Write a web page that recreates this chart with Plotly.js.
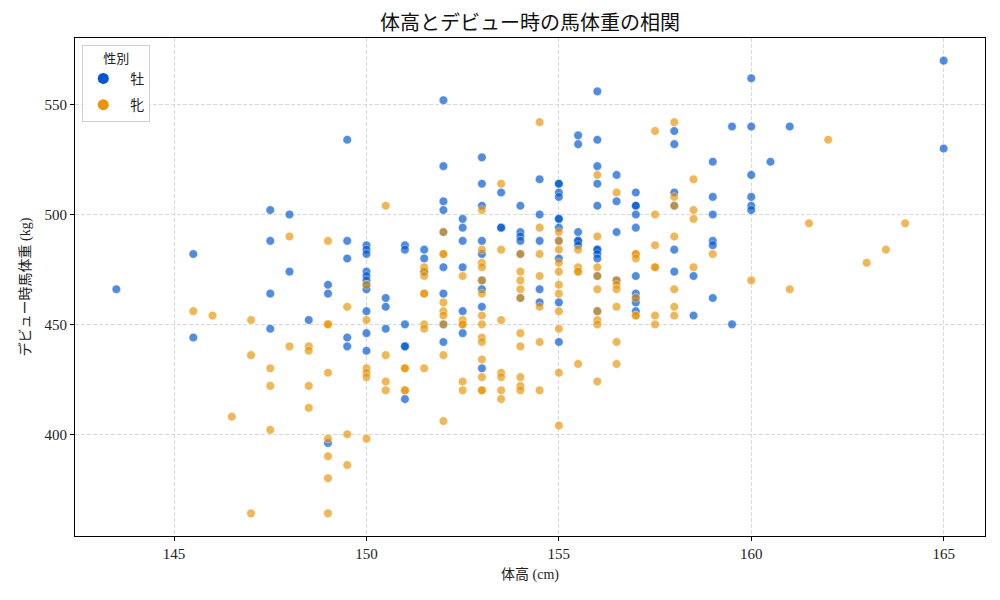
<!DOCTYPE html>
<html>
<head>
<meta charset="utf-8">
<script src="https://cdn.plot.ly/plotly-3.0.1.min.js"></script>
<style>html,body{margin:0;padding:0;background:#fff;}#chart{width:1000px;height:600px;}</style>
</head>
<body>
<div id="chart"></div>
<script>
// 牡 (male): heights (cm) and weights (kg) at each height
const maleHeights = [143.5, 145.5, 147.5, 148, 148.5, 149, 149.5, 150, 150.5, 151, 151.5, 152, 152.5, 153, 153.5, 154, 154.5, 155, 155.5, 156, 156.5, 157, 158, 158.5, 159, 159.5, 160, 160.5, 161, 165];
const maleWeights = [
  [466],
  [482, 444],
  [502, 488, 464, 448],
  [500, 474],
  [452],
  [468, 464, 396],
  [534, 488, 480, 444, 440],
  [486, 484, 482, 474, 472, 470, 468, 466, 456, 446, 438],
  [462, 458, 448],
  [486, 484, 450, 440, 440, 416],
  [484, 480, 474],
  [552, 522, 506, 502, 492, 476, 464, 450, 442],
  [498, 494, 488, 476, 456, 446],
  [526, 514, 504, 488, 482, 470, 466, 458, 430],
  [510, 494, 494],
  [504, 492, 490, 488, 482, 462],
  [516, 500, 488, 466, 460],
  [514, 514, 510, 508, 498, 498, 494, 488, 480, 460, 442],
  [536, 532, 492, 488, 488, 486],
  [556, 534, 522, 514, 504, 484, 484, 482, 480, 472, 456],
  [518, 506, 492, 470],
  [510, 504, 504, 500, 494, 472, 464, 462, 460, 456],
  [538, 532, 510, 504, 484, 474],
  [472, 454],
  [524, 508, 500, 488, 486, 462],
  [540, 450],
  [562, 540, 518, 508, 504, 502],
  [524],
  [540],
  [570, 530]
];
// 牝 (female)
const femaleHeights = [145.5, 146, 146.5, 147, 147.5, 148, 148.5, 149, 149.5, 150, 150.5, 151, 151.5, 152, 152.5, 153, 153.5, 154, 154.5, 155, 155.5, 156, 156.5, 157, 157.5, 158, 158.5, 159, 160, 161, 161.5, 162, 163, 163.5, 164];
const femaleWeights = [
  [456],
  [454],
  [408],
  [452, 436, 364],
  [430, 422, 402],
  [490, 440],
  [440, 438, 422, 412],
  [488, 450, 450, 428, 398, 390, 380, 364],
  [458, 400, 386],
  [468, 452, 430, 428, 426, 398],
  [504, 436, 424, 420],
  [430, 430, 420, 420],
  [476, 474, 472, 464, 464, 450, 448, 430],
  [492, 482, 482, 460, 456, 454, 450, 436, 406],
  [472, 452, 450, 450, 424, 420],
  [502, 484, 478, 476, 470, 464, 454, 450, 444, 442, 434, 426, 420, 420],
  [514, 484, 452, 428, 426, 420, 416],
  [482, 474, 470, 466, 462, 446, 440, 426, 422, 420],
  [542, 494, 482, 472, 458, 442, 420],
  [492, 488, 484, 478, 474, 468, 464, 456, 448, 428, 404],
  [484, 476, 474, 474, 432],
  [518, 490, 476, 472, 466, 456, 452, 450, 424],
  [510, 470, 468, 466, 458, 442, 432],
  [482, 482, 480, 462, 454, 454],
  [538, 500, 486, 476, 476, 454, 450],
  [542, 508, 504, 490, 466, 458, 454],
  [516, 502, 498, 476],
  [482],
  [470],
  [466],
  [496],
  [534],
  [478],
  [484],
  [496]
];
const sexLabels = ['牡', '牝'];
const xTicks = [145, 150, 155, 160, 165];
const yTicks = [400, 450, 500, 550];

function flatten(hs, ws) {
  const x = [], y = [];
  hs.forEach((h, i) => ws[i].forEach(w => { x.push(h); y.push(w); }));
  return {x, y};
}
const m = flatten(maleHeights, maleWeights);
const f = flatten(femaleHeights, femaleWeights);

const BLUE = '#0057D0';
const ORANGE = '#E6960A';
const serif = '"Liberation Serif", "DejaVu Serif", "Noto Sans CJK JP", serif';
const cjk = '"Liberation Serif", "Noto Sans CJK JP", serif';

const traces = [
  {x: m.x, y: m.y, type: 'scatter', mode: 'markers', name: sexLabels[0], showlegend: false,
   marker: {color: BLUE, size: 8.6, opacity: 0.68, line: {color: '#ffffff', width: 0.5}}},
  {x: f.x, y: f.y, type: 'scatter', mode: 'markers', name: sexLabels[1], showlegend: false,
   marker: {color: ORANGE, size: 8.6, opacity: 0.68, line: {color: '#ffffff', width: 0.5}}},
  {x: [null], y: [null], type: 'scatter', mode: 'markers', name: '&nbsp;&nbsp;' + sexLabels[0], legendgroup: 'a',
   marker: {color: BLUE, size: 11}},
  {x: [null], y: [null], type: 'scatter', mode: 'markers', name: '&nbsp;&nbsp;' + sexLabels[1], legendgroup: 'b',
   marker: {color: ORANGE, size: 11}}
];

const layout = {
  width: 1000, height: 600,
  margin: {l: 75, r: 15, t: 38, b: 64},
  paper_bgcolor: '#ffffff', plot_bgcolor: '#ffffff',
  font: {family: serif, color: '#222'},
  title: {text: '体高とデビュー時の馬体重の相関', x: 0.53, xanchor: 'center', y: 0.962, yanchor: 'middle',
          font: {family: cjk, size: 20, color: '#111'}},
  xaxis: {
    range: [142.425, 166.075], tickvals: xTicks, ticktext: xTicks.map(String),
    showgrid: true, gridcolor: '#d0d0d0', griddash: '4px,2px', gridwidth: 0.8,
    zeroline: false, showline: true, linecolor: '#000', linewidth: 1, mirror: true,
    ticks: 'outside', ticklen: 4, tickcolor: '#000',
    tickfont: {family: serif, size: 15, color: '#222'},
    title: {text: '体高 (cm)', font: {family: cjk, size: 14, color: '#222'}, standoff: 8}
  },
  yaxis: {
    range: [353.7, 580.3], tickvals: yTicks, ticktext: yTicks.map(String),
    showgrid: true, gridcolor: '#d0d0d0', griddash: '4px,2px', gridwidth: 0.8,
    zeroline: false, showline: true, linecolor: '#000', linewidth: 1, mirror: true,
    ticks: 'outside', ticklen: 4, tickcolor: '#000',
    tickfont: {family: serif, size: 15, color: '#222'},
    title: {text: 'デビュー時馬体重 (kg)', font: {family: cjk, size: 14, color: '#222'}, standoff: 10}
  },
  legend: {
    x: 0.008, y: 0.986, xanchor: 'left', yanchor: 'top',
    bgcolor: 'rgba(255,255,255,0.9)', bordercolor: '#d0d0d0', borderwidth: 1,
    font: {family: cjk, size: 14, color: '#222'},
    title: {text: '性別', side: 'top center', font: {family: cjk, size: 13, color: '#222'}},
    itemwidth: 30, tracegroupgap: 5
  },
  showlegend: true
};

Plotly.newPlot('chart', traces, layout, {displayModeBar: false, staticPlot: true});
</script>
</body>
</html>
